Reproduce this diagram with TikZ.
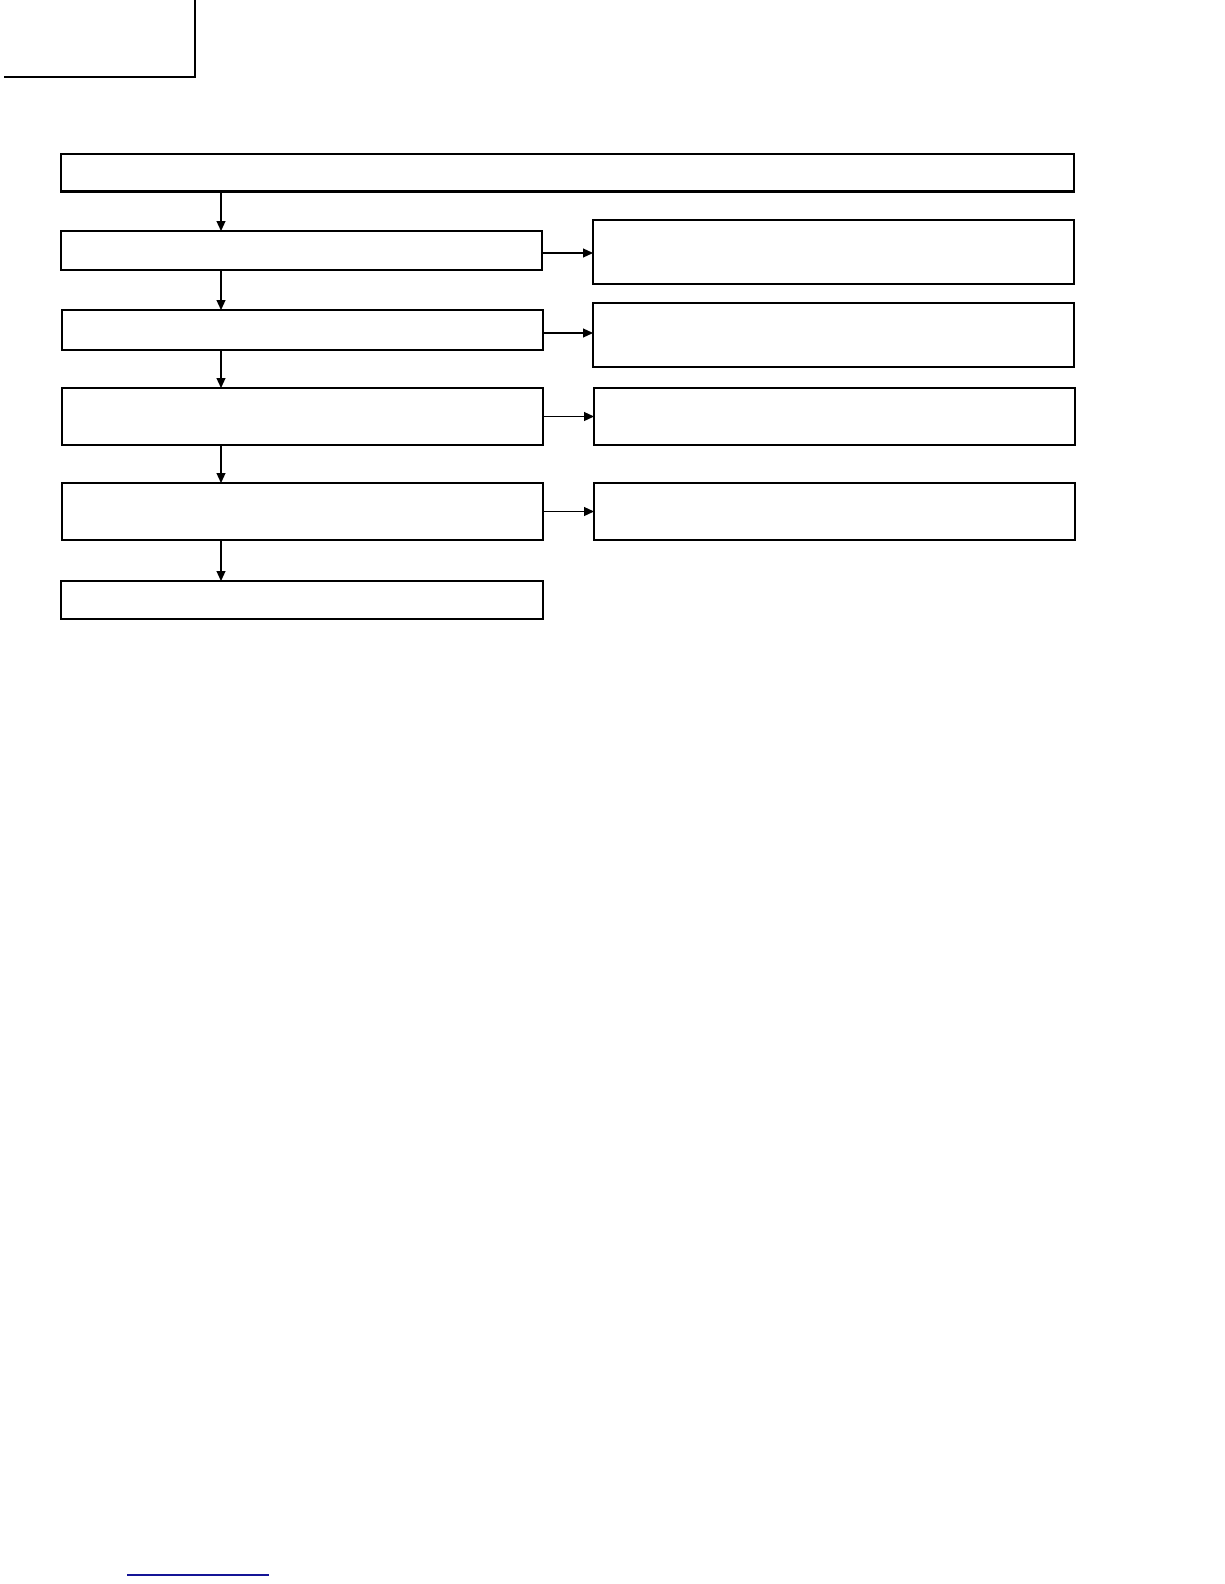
\documentclass[tikz,border=0pt]{standalone}
\usetikzlibrary{arrows.meta}
\definecolor{linkblue}{RGB}{20,20,150}
\begin{document}
\begin{tikzpicture}[x=1pt,y=-1pt,
  box/.style={draw, line width=1.1pt, inner sep=0pt, outer sep=0pt, fill=white},
  topbox/.style={box, line width=2.8pt},
  arr/.style={line width=1.2pt, -{Triangle[length=10pt,width=9pt]}}]
\useasboundingbox (0,0) rectangle (1224,1584);
\fill[white] (0,0) rectangle (1224,1584);
% corner mark
\draw[line width=2pt] (195,0) -- (195,77) -- (4,77);
% boxes
\node[topbox, minimum width=1013pt, minimum height=37.5pt] (top) at (567.5,172.75) {};
\node[box, minimum width=481pt, minimum height=39pt] (L1) at (301.5,250.5) {};
\node[box, minimum width=481pt, minimum height=40pt] (L2) at (302.5,330) {};
\node[box, minimum width=481pt, minimum height=57pt] (L3) at (302.5,416.5) {};
\node[box, minimum width=481pt, minimum height=57pt] (L4) at (302.5,511.5) {};
\node[box, minimum width=482pt, minimum height=38pt] (L5) at (302,600) {};
\node[box, minimum width=481pt, minimum height=64pt] (R1) at (833.5,252) {};
\node[box, minimum width=481pt, minimum height=64pt] (R2) at (833.5,335) {};
\node[box, minimum width=481pt, minimum height=57pt] (R3) at (834.5,416.5) {};
\node[box, minimum width=481pt, minimum height=57pt] (R4) at (834.5,511.5) {};
% vertical arrows
\coordinate (ax) at (221,0);
\draw[arr] (top.south -| ax) -- (L1.north -| ax);
\draw[arr] (L1.south -| ax) -- (L2.north -| ax);
\draw[arr] (L2.south -| ax) -- (L3.north -| ax);
\draw[arr] (L3.south -| ax) -- (L4.north -| ax);
\draw[arr] (L4.south -| ax) -- (L5.north -| ax);
% horizontal arrows
\draw[arr] ([yshift=-2.5pt]L1.east) -- ([yshift=-2.5pt]L1.east -| R1.west);
\draw[arr] ([yshift=-3pt]L2.east) -- ([yshift=-3pt]L2.east -| R2.west);
\draw[arr] (L3.east) -- (L3.east -| R3.west);
\draw[arr] (L4.east) -- (L4.east -| R4.west);
% bottom link line
\draw[linkblue, line width=1.2pt] (127,1575) -- (269,1575);
\end{tikzpicture}
\end{document}
